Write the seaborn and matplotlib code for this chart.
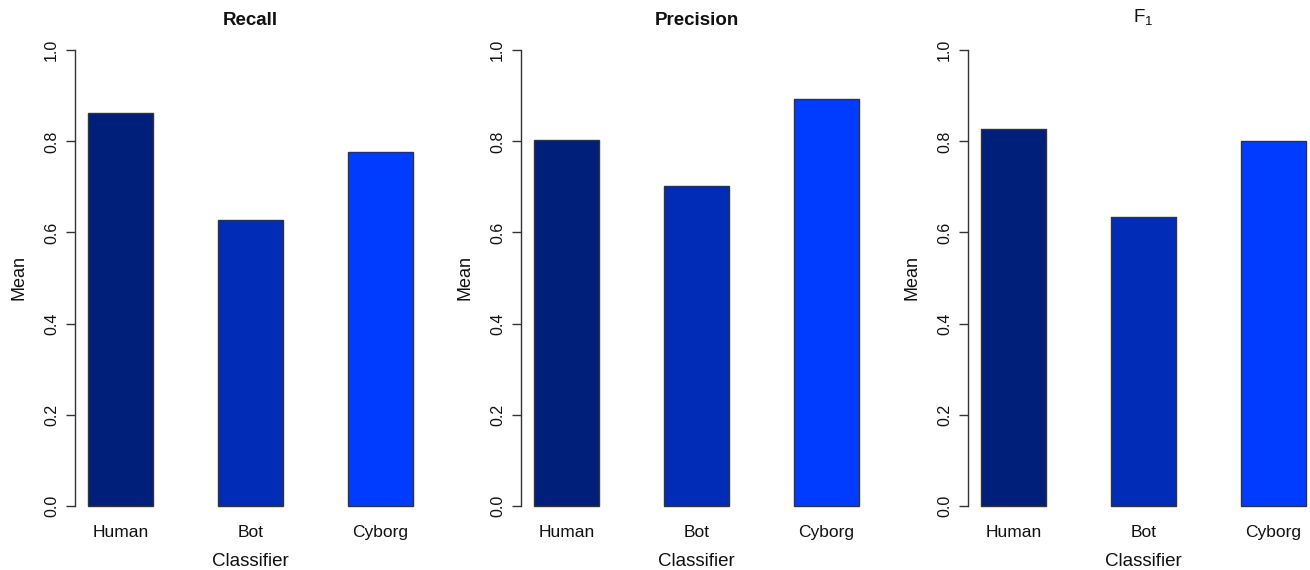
import pandas as pd
import seaborn as sns
import matplotlib.pyplot as plt

# Data
classifiers = ["Human", "Bot", "Cyborg"]
recall = [0.862, 0.628, 0.776]
precision = [0.803, 0.703, 0.892]
f1 = [0.828, 0.635, 0.801]
panel_titles = ["Recall", "Precision", r"$\mathregular{F_1}$"]
bar_colors = ["#001f7a", "#002cb8", "#003cff"]
y_ticks = [0.0, 0.2, 0.4, 0.6, 0.8, 1.0]

sns.set_style("white")
plt.rcParams['font.family'] = ['Liberation Sans', 'DejaVu Sans']
plt.rcParams['text.color'] = "#111111"
plt.rcParams['axes.labelcolor'] = "#111111"
plt.rcParams['xtick.color'] = "#111111"
plt.rcParams['ytick.color'] = "#111111"

fig = plt.figure(figsize=(13.1, 5.7), dpi=100)

lefts = [75 / 1310, 521 / 1310, 968 / 1310]
bottom = (570 - 524) / 570
width = 351 / 1310
height = 492 / 570

for i, (values, title) in enumerate(zip([recall, precision, f1], panel_titles)):
    ax = fig.add_axes([lefts[i], bottom, width, height])
    df = pd.DataFrame({"Classifier": classifiers, "Mean": values})
    sns.barplot(data=df, x="Classifier", y="Mean", hue="Classifier",
                palette=bar_colors, saturation=1, width=0.5,
                edgecolor="#333333", linewidth=1, legend=False, ax=ax)
    ax.set_xlim(-0.35, 2.35)
    ax.set_ylim(-0.04, 1.04)
    ax.set_yticks(y_ticks)
    ax.set_yticklabels([f"{t:.1f}" for t in y_ticks])

    # R-style axes: only a left axis line spanning the ticks
    for side in ["top", "right", "bottom"]:
        ax.spines[side].set_visible(False)
    ax.spines["left"].set_bounds(0, 1)
    ax.spines["left"].set_color("#333333")
    ax.spines["left"].set_linewidth(1)
    ax.tick_params(axis="y", direction="out", length=6.5, width=1,
                   color="#333333", pad=5, labelsize=11.5, labelrotation=90,
                   left=True)
    for lbl in ax.get_yticklabels():
        lbl.set_verticalalignment("center")
    ax.tick_params(axis="x", length=0, pad=1, labelsize=12.5)

    ax.set_xlabel("Classifier", fontsize=13.5, labelpad=9)
    ax.set_ylabel("Mean", fontsize=13, labelpad=12)
    if i == 2:
        ax.set_title(title, fontsize=13.5, pad=7)
    else:
        ax.set_title(title, fontsize=13.5, fontweight="bold", pad=5)

plt.savefig("out.png", dpi=100)
